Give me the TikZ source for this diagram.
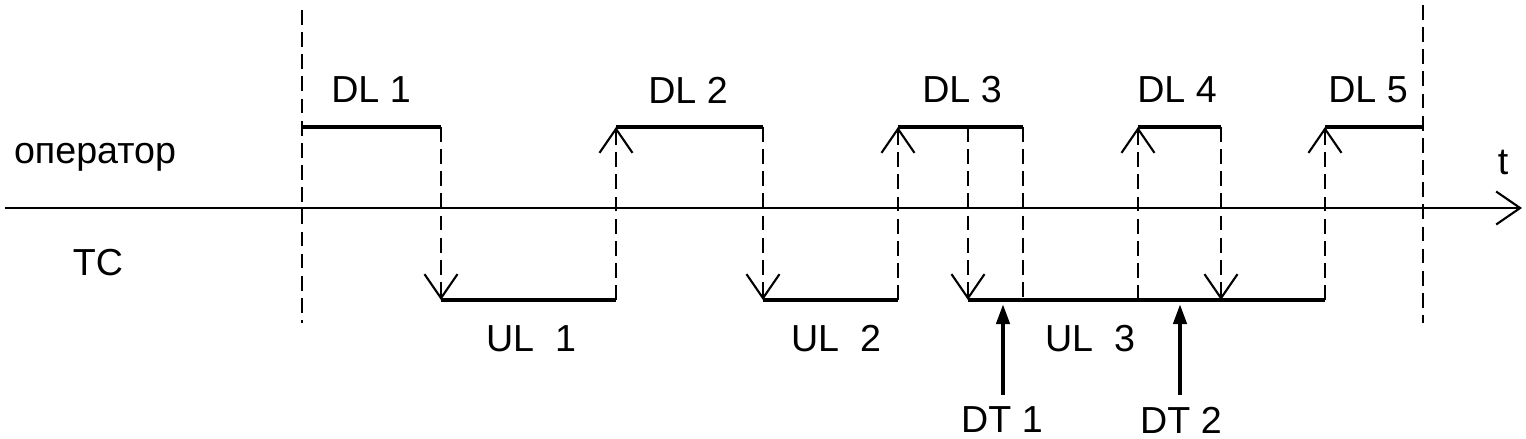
\documentclass[tikz,border=0pt]{standalone}
\usepackage{fontspec}
\setmainfont{Liberation Sans}
\usetikzlibrary{arrows.meta,positioning}

\begin{document}
\begin{tikzpicture}[x=0.01cm, y=-0.01cm,
        level/.style={line width=1.2pt},
        guide/.style={dashed, dash pattern=on 4.2pt off 2.1pt, line width=0.6pt},
        sig/.style={guide, -{Straight Barb[length=0.24cm, width=0.33cm, line width=0.6pt]}},
        axis/.style={line width=0.6pt, -{Straight Barb[length=0.24cm, width=0.33cm, line width=0.6pt]}},
        event/.style={line width=1.2pt, -{Triangle[length=0.2cm, width=0.13cm]}},
        lbl/.style={font=\fontsize{10.7}{12}\selectfont, inner sep=0pt}]

        \useasboundingbox (0,0) rectangle (1526,438);

        % time axis
        \coordinate (start) at (5,208);
        \coordinate (tend) at (1522,208);
        \draw[axis] (start) -- (tend);
        \node[lbl] (t) at (1503,162) {t};
        \node[lbl] (op) at (95,157) {оператор};
        \node[lbl] (tc) at (98,263) {TC};

        % frame borders
        \coordinate (f1) at (302,10);  \coordinate (f2) at (302,323);
        \coordinate (f3) at (1423,5);  \coordinate (f4) at (1423,323);
        \draw[guide] (f1) -- (f2);
        \draw[guide] (f3) -- (f4);

        % level corners
        \coordinate (aT) at (302,127);
        \coordinate (bT) at (441,127);  \coordinate (bB) at (441,300);
        \coordinate (cT) at (616,127);  \coordinate (cB) at (616,300);
        \coordinate (dT) at (763,127);  \coordinate (dB) at (763,300);
        \coordinate (eT) at (898,127);  \coordinate (eB) at (898,300);
        \coordinate (fT) at (968,127);  \coordinate (fB) at (968,300);
        \coordinate (gT) at (1023,127); \coordinate (gB) at (1023,300);
        \coordinate (hT) at (1138,127); \coordinate (hB) at (1138,300);
        \coordinate (iT) at (1221,127); \coordinate (iB) at (1221,300);
        \coordinate (jT) at (1325,127); \coordinate (jB) at (1325,300);
        \coordinate (kT) at (1423,127);

        % downlink
        \draw[level] (aT) -- (bT);
        \draw[level] (cT) -- (dT);
        \draw[level] (eT) -- (gT);
        \draw[level] (hT) -- (iT);
        \draw[level] (jT) -- (kT);

        % uplink
        \draw[level] (bB) -- (cB);
        \draw[level] (dB) -- (eB);
        \draw[level] (fB) -- (jB);

        % switching
        \draw[sig] (bT) -- (bB);
        \draw[sig] (cB) -- (cT);
        \draw[sig] (dT) -- (dB);
        \draw[sig] (eB) -- (eT);
        \draw[sig] (fT) -- (fB);
        \draw[guide] (gT) -- (gB);
        \draw[sig] (hB) -- (hT);
        \draw[sig] (iT) -- (iB);
        \draw[sig] (jB) -- (jT);

        \node[lbl] (dl1) at (371,90) {DL 1};
        \node[lbl] (dl2) at (688,90) {DL 2};
        \node[lbl] (dl3) at (962,90) {DL 3};
        \node[lbl] (dl4) at (1177,90) {DL 4};
        \node[lbl] (dl5) at (1368,90) {DL 5};
        \node[lbl] (ul1) at (531,339) {UL\ \ 1};
        \node[lbl] (ul2) at (836,339) {UL\ \ 2};
        \node[lbl] (ul3) at (1090,339) {UL\ \ 3};

        % data transfers
        \node[lbl] (dt1) at (1002,420) {DT 1};
        \node[lbl] (dt2) at (1181,420) {DT 2};
        \coordinate (dt1b) at (1003,395); \coordinate (dt1e) at (1003,304);
        \coordinate (dt2b) at (1180,395); \coordinate (dt2e) at (1180,304);
        \draw[event] (dt1b) -- (dt1e);
        \draw[event] (dt2b) -- (dt2e);
    \end{tikzpicture}
\end{document}
